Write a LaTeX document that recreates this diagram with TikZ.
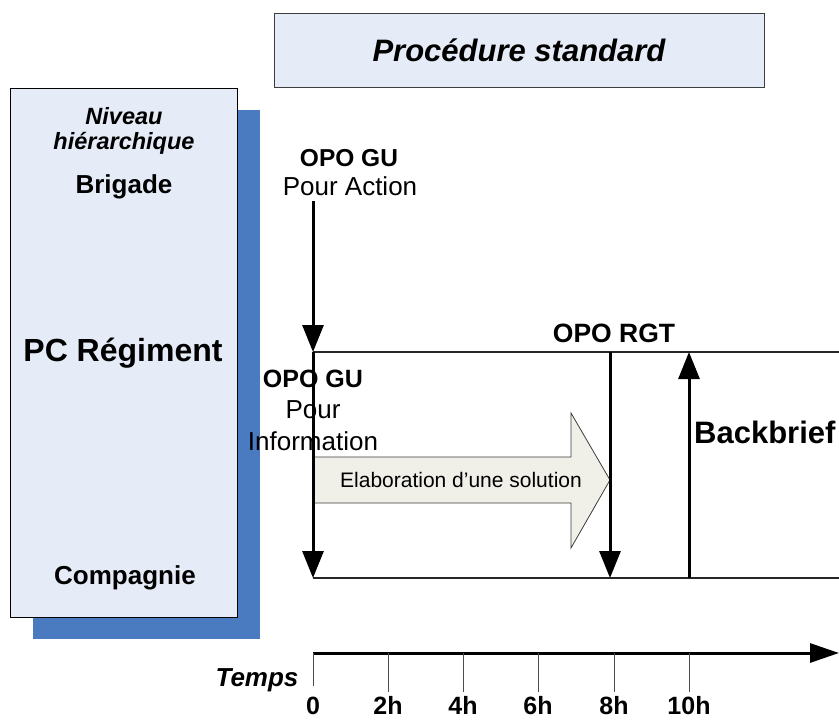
\documentclass[tikz,border=0pt]{standalone}
\usepackage{fontspec}
\setmainfont{Liberation Sans}
\usetikzlibrary{arrows.meta}
\definecolor{boxfill}{RGB}{230,236,247}
\definecolor{shadowblue}{RGB}{74,122,192}
\definecolor{arrowfill}{RGB}{240,240,232}
\definecolor{edgegray}{RGB}{60,60,60}
\newcommand{\fs}[1]{\fontsize{#1}{#1}\selectfont}
\begin{document}
\begin{tikzpicture}[x=1pt,y=-1pt,
  bigtip/.style={-{Triangle[length=27pt,width=21pt]}, line width=3pt},
  frameline/.style={line width=1.2pt, draw=black!85},
  lbl/.style={inner sep=0pt, align=center},
  tick/.style={line width=1pt, draw=black!70}]
\useasboundingbox (0,0) rectangle (839,720);
% title box
\node[draw=edgegray, line width=1pt, fill=boxfill, minimum width=490pt, minimum height=74pt, inner sep=0pt] (title) at (519,50) {\fs{31}\bfseries\itshape Procédure standard};
% left box with shadow
\fill[shadowblue] (33,110) rectangle (260,639);
\node[draw=black, line width=1pt, fill=boxfill, minimum width=227pt, minimum height=529pt, inner sep=0pt, anchor=north west] (level) at (10,88) {};
\node[lbl] (niveau) at (124,116) {\fs{23.5}\bfseries\itshape Niveau};
\node[lbl] (hier) at (124,143) {\fs{23.5}\bfseries\itshape hiérarchique};
\node[lbl] (brigade) at (124,187) {\fs{26}\bfseries Brigade};
\node[lbl] (pcreg) at (123,353) {\fs{32}\bfseries PC Régiment};
\node[lbl] (comp) at (125,578) {\fs{26}\bfseries Compagnie};
% frame lines
\coordinate (tl) at (313,352);
\coordinate (tr) at (839,352);
\coordinate (bl) at (313,578);
\coordinate (br) at (839,578);
\draw[frameline] (tl) -- (tr);
\draw[frameline] (bl) -- (br);
% big arrow
\coordinate (a1) at (313,457);
\coordinate (a2) at (571,457);
\coordinate (a3) at (571,413);
\coordinate (a4) at (610,480);
\coordinate (a5) at (571,548);
\coordinate (a6) at (571,503);
\coordinate (a7) at (313,503);
\filldraw[fill=arrowfill, draw=edgegray, line width=0.8pt] (a1) -- (a2) -- (a3) -- (a4) -- (a5) -- (a6) -- (a7) -- cycle;
\node[lbl] (elab) at (461,480) {\fs{21}Elaboration d’une solution};
% top OPO GU
\node[lbl] (opogu1) at (349,158) {\fs{24.5}\bfseries OPO GU};
\node[lbl] (pouract) at (350,186) {\fs{26}Pour Action};
\coordinate (s1) at (313,201);
\draw[bigtip] (s1) -- (tl);
% second OPO GU
\node[lbl] (opogu2) at (313,379) {\fs{25}\bfseries OPO GU};
\node[lbl] (pour) at (313,410) {\fs{26}Pour};
\node[lbl] (info) at (313,441) {\fs{26}Information};
\draw[bigtip] (tl) -- (bl);
% OPO RGT
\node[lbl] (oporgt) at (614,333) {\fs{26.5}\bfseries OPO RGT};
\coordinate (r1) at (610,352);
\coordinate (r2) at (610,578);
\draw[bigtip] (r1) -- (r2);
% Backbrief
\coordinate (b1) at (689,578);
\coordinate (b2) at (689,352);
\draw[bigtip] (b1) -- (b2);
\node[lbl, anchor=west] (back) at (694,432) {\fs{31}\bfseries Backbrief};
% time axis
\coordinate (t0) at (313,653);
\coordinate (tend) at (839,653);
\draw[line width=3pt, -{Triangle[length=29pt,width=19pt]}] (t0) -- (tend);
\draw[tick] (313,653) -- (313,686);
\foreach \x in {388,463,538,614,689} {
  \draw[tick] (\x,653) -- (\x,692);
}
\node[lbl, anchor=base] (lab0) at (313,714) {\fs{25}\bfseries 0};
\node[lbl, anchor=base] (lab2) at (388,714) {\fs{25}\bfseries 2h};
\node[lbl, anchor=base] (lab4) at (463,714) {\fs{25}\bfseries 4h};
\node[lbl, anchor=base] (lab6) at (538,714) {\fs{25}\bfseries 6h};
\node[lbl, anchor=base] (lab8) at (614,714) {\fs{25}\bfseries 8h};
\node[lbl, anchor=base] (lab10) at (689,714) {\fs{25}\bfseries 10h};
\node[lbl] (temps) at (257,680) {\fs{26}\bfseries\itshape Temps};
\end{tikzpicture}
\end{document}
